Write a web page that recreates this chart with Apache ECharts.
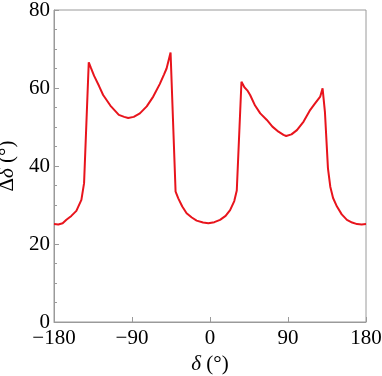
<!DOCTYPE html>
<html>
<head>
    <meta charset="UTF-8">
    <title>Δδ vs δ</title>
</head>
<body style="margin:0">
<div id="main" style="width: 382px;height:376px;"></div>
<script src="https://cdn.jsdelivr.net/npm/echarts@6/dist/echarts.min.js"></script>
<script>
    // delta (deg) and Delta-delta (deg)
    var delta = [-180, -175, -170, -165.7, -160, -154.2, -148.4, -145.3, -139.9, -137.5, -133.7, -128, -123.3, -115, -105.2, -99, -94.4, -88, -80.9, -73, -65.5, -58, -53, -50.1, -45.5,
        -39.7, -36.6, -32, -27, -21, -15.4, -8, -1.9, 5, 11.6, 18, 23.2, 28, 30.9, 36.3, 39.7, 43, 46.3, 52, 58, 65.6, 72, 79, 84.8, 87.9, 94, 100.3, 108, 115.7,
        121, 127.2, 129.9, 132.6, 136.1, 138.8, 142, 146.5, 152, 158, 164, 169.7, 175, 180];
    var dDelta = [25.1, 25.0, 25.3, 26.2, 27.2, 28.5, 31.3, 35.6, 66.6, 65.2, 63.1, 60.5, 58.2, 55.5, 53.1, 52.6, 52.3, 52.6, 53.5, 55.3, 57.8, 61.0, 63.5, 65.0, 69.1,
        33.4, 31.7, 29.6, 27.9, 26.8, 26.0, 25.5, 25.3, 25.6, 26.2, 27.2, 28.7, 31.0, 33.7, 61.6, 60.2, 59.4, 58.2, 55.5, 53.5, 51.8, 50.1, 48.8, 48.0, 47.7, 48.1, 49.2, 51.4, 54.4,
        56.0, 57.8, 59.9, 53.9, 39.4, 34.7, 31.8, 29.6, 27.6, 26.2, 25.5, 25.1, 25.0, 25.1];
    var xTicks = [-180, -90, 0, 90, 180];

    var data = [];
    for (var i = 0; i < delta.length; i++) {
        data.push([delta[i], dDelta[i]]);
    }

    var serif = '"Liberation Serif", "DejaVu Serif", serif';
    var gray = '#9a9a9a';

    var myChart = echarts.init(document.getElementById('main'));
    var option = {
        animation: false,
        grid: {
            left: 54, right: 16, top: 10, bottom: 54,
            outerBoundsMode: 'none',
            containLabel: false,
            show: true,
            borderColor: gray,
            borderWidth: 1
        },
        xAxis: {
            type: 'value',
            min: -180, max: 180, interval: 90,
            name: '{i|δ} (°)',
            nameLocation: 'middle',
            nameGap: 32,
            nameTextStyle: {
                fontFamily: serif, fontSize: 21, color: '#000',
                rich: { i: { fontFamily: serif, fontSize: 21, fontStyle: 'italic', color: '#000' } }
            },
            axisLine: { onZero: false, lineStyle: { color: gray, width: 1 } },
            axisTick: { inside: true, length: 5, lineStyle: { color: gray } },
            axisLabel: {
                fontFamily: serif, fontSize: 21, color: '#000', margin: 6,
                formatter: function (v) {
                    return xTicks.indexOf(v) >= 0 ? String(v).replace('-', '\u2212') : '';
                }
            },
            splitLine: { show: false }
        },
        yAxis: {
            type: 'value',
            min: 0, max: 80, interval: 20,
            name: 'Δ{i|δ} (°)',
            nameLocation: 'middle',
            nameGap: 31,
            nameTextStyle: {
                fontFamily: serif, fontSize: 21, color: '#000',
                rich: { i: { fontFamily: serif, fontSize: 21, fontStyle: 'italic', color: '#000' } }
            },
            axisLine: { onZero: false, lineStyle: { color: gray, width: 1 } },
            axisTick: { inside: true, length: 5, lineStyle: { color: gray } },
            minorTick: { show: true, splitNumber: 4, length: 3, lineStyle: { color: gray } },
            axisLabel: { fontFamily: serif, fontSize: 21, color: '#000', margin: 4 },
            splitLine: { show: false }
        },
        series: [{
            type: 'line',
            data: data,
            showSymbol: false,
            lineStyle: { color: '#e8141c', width: 2 },
            itemStyle: { color: '#e8141c' }
        }]
    };
    myChart.setOption(option);
</script>
</body>
</html>
